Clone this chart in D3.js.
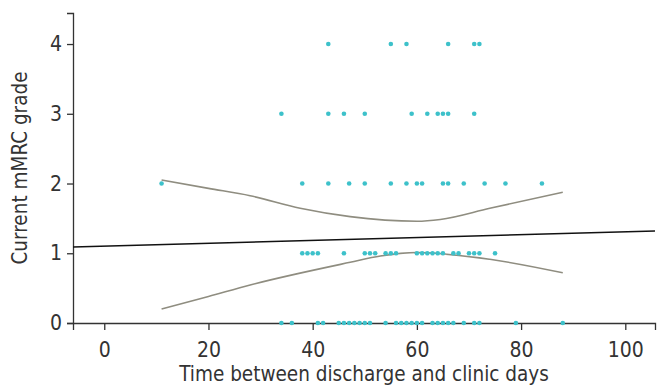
<!DOCTYPE html>
<html>
<head>
<meta charset="utf-8">
<script src="https://cdn.jsdelivr.net/npm/d3@7"></script>
<style>
  html, body { margin: 0; padding: 0; background: #fff; }
  svg text { font-family: "Liberation Sans Narrow", "DejaVu Sans Condensed", Roboto, sans-serif; fill: #333; }
</style>
</head>
<body>
<svg id="chart" width="662" height="386"></svg>
<script>
// ---- data ----
const grade0 = [34, 36, 41, 42, 45, 46, 47, 48, 49, 50, 51, 54, 56, 57, 58, 59, 60, 61, 63, 64, 65, 66, 67, 69, 71, 72, 79, 88];
const grade1 = [38, 39, 40, 41, 46, 50, 51, 52, 54, 55, 56, 60, 61, 62, 63, 64, 65, 67, 68, 70, 71, 72, 75];
const grade2 = [11, 38, 43, 47, 50, 55, 58, 60, 61, 65, 66, 69, 73, 77, 84];
const grade3 = [34, 43, 46, 50, 59, 62, 64, 65, 66, 71];
const grade4 = [43, 55, 58, 66, 71, 72];
const gradeValues = [0, 1, 2, 3, 4];

const fitX = [-6, 105.7];
const fitY = [1.09, 1.32];

const bandX     = [11, 20, 28, 37.6, 47.2, 60, 64.5, 74, 88];
const bandUpper = [2.05, 1.93, 1.825, 1.645, 1.525, 1.46, 1.485, 1.645, 1.875];
const bandLowerX = [11, 20, 28, 47.2, 53, 60, 74, 88];
const bandLower = [0.20, 0.38, 0.545, 0.87, 0.96, 1.01, 0.913, 0.72];

const xTicks = [0, 20, 40, 60, 80, 100];
const yTicks = [0, 1, 2, 3, 4];
const xTitle = "Time between discharge and clinic days";
const yTitle = "Current mMRC grade";

// ---- layout ----
const svg = d3.select("#chart");
const x = d3.scaleLinear().domain([-6, 105.7]).range([73, 655]);
const y = d3.scaleLinear().domain([0, 4.445]).range([323, 13]);

const axisColor = "#333";

// x axis
const gx = svg.append("g").attr("transform", `translate(0,${y(0)})`)
  .call(d3.axisBottom(x).tickValues(xTicks).tickSize(7).tickPadding(12).tickFormat(d3.format("d")));
gx.select(".domain").attr("stroke", axisColor).attr("stroke-width", 1.3);
gx.selectAll(".tick line").attr("stroke", axisColor).attr("stroke-width", 1.3);
gx.selectAll(".tick text").style("font-size", "21px").attr("fill", "#333");

// y axis
const gy = svg.append("g").attr("transform", `translate(${x(-6)},0)`)
  .call(d3.axisLeft(y).tickValues(yTicks).tickSize(6).tickPadding(5).tickFormat(d3.format("d")));
gy.select(".domain").attr("stroke", axisColor).attr("stroke-width", 1.3);
gy.selectAll(".tick line").attr("stroke", axisColor).attr("stroke-width", 1.3);
gy.selectAll(".tick text").style("font-size", "21px").attr("fill", "#333");

// axis titles
svg.append("text").attr("x", (x(-6) + x(105.7)) / 2).attr("y", 381)
  .attr("text-anchor", "middle").style("font-size", "20.5px").text(xTitle);
svg.append("text").attr("transform", `translate(27,${(y(0) + y(4.445)) / 2}) rotate(-90)`)
  .attr("text-anchor", "middle").style("font-size", "20.5px").text(yTitle);

// confidence bands
const line = d3.line().curve(d3.curveMonotoneX);
svg.append("path")
  .attr("d", line(bandX.map((v, i) => [x(v), y(bandUpper[i])])))
  .attr("fill", "none").attr("stroke", "#8f8d80").attr("stroke-width", 1.6);
svg.append("path")
  .attr("d", line(bandLowerX.map((v, i) => [x(v), y(bandLower[i])])))
  .attr("fill", "none").attr("stroke", "#8f8d80").attr("stroke-width", 1.6);

// fitted line
svg.append("path")
  .attr("d", d3.line()(fitX.map((v, i) => [x(v), y(fitY[i])])))
  .attr("fill", "none").attr("stroke", "#111").attr("stroke-width", 1.4);

// points
const groups = [grade0, grade1, grade2, grade3, grade4];
const pts = [];
groups.forEach((arr, gi) => arr.forEach(d => pts.push({ x: d, y: gradeValues[gi] })));
svg.append("g").selectAll("circle").data(pts).join("circle")
  .attr("cx", d => x(d.x)).attr("cy", d => y(d.y)).attr("r", 2.3)
  .attr("fill", "#3dc1ca");
</script>
</body>
</html>
